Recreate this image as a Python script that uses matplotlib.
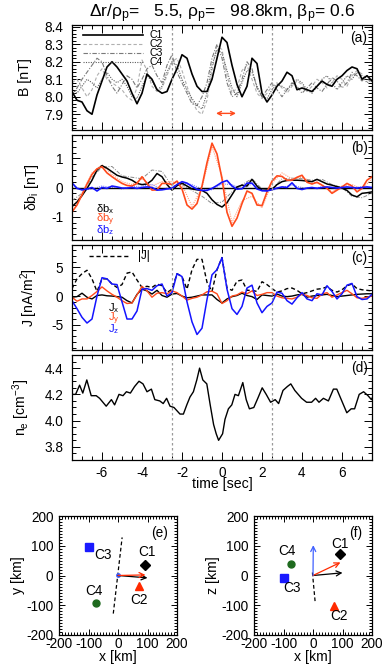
import numpy as np
import matplotlib
matplotlib.use('Agg')
import matplotlib.pyplot as plt
from matplotlib.ticker import MultipleLocator, FormatStrFormatter

plt.rcParams['font.family'] = ['Liberation Sans', 'DejaVu Sans']
plt.rcParams['mathtext.fontset'] = 'custom'
plt.rcParams['mathtext.rm'] = 'Liberation Sans'
plt.rcParams['mathtext.it'] = 'Liberation Sans'
plt.rcParams['mathtext.bf'] = 'Liberation Sans:bold'
plt.rcParams['axes.unicode_minus'] = False

# ---------------- data ----------------
t = np.arange(-7.5, 7.5001, 0.25)
t_alt = np.arange(-7.5, 7.5001, 0.5)

B_C1 = [8.03, 7.98, 7.97, 7.92, 7.90, 8.01, 8.09, 8.17, 8.20, 8.17,
        8.13, 8.09, 8.02, 7.96, 8.02, 8.13, 8.10, 8.04, 8.02, 8.03,
        8.10, 8.16, 8.24, 8.22, 8.13, 8.06, 8.03, 8.03, 8.10, 8.22,
        8.34, 8.31, 8.18, 8.07, 8.00, 8.06, 8.22, 8.19, 8.02, 7.97,
        8.01, 8.06, 8.09, 8.14, 8.12, 8.04, 8.05, 8.04, 8.03, 8.06,
        8.09, 8.07, 8.06, 8.10, 8.12, 8.15, 8.17, 8.16, 8.10, 8.12, 8.09]
B_C2 = [8.08, 8.10, 8.05, 8.00, 8.04, 8.12, 8.16, 8.10, 8.08, 8.06,
        8.04, 8.00, 7.98, 8.05, 8.21, 8.15, 8.06, 8.03, 8.05, 8.12,
        8.20, 8.22, 8.15, 8.06, 7.98, 7.92, 7.90, 7.98, 8.15, 8.29,
        8.27, 8.12, 8.02, 8.05, 8.15, 8.18, 8.10, 8.02, 7.99, 8.02,
        8.06, 8.08, 8.05, 8.02, 8.06, 8.09, 8.07, 8.03, 8.06, 8.10,
        8.08, 8.05, 8.08, 8.12, 8.10, 8.06, 8.12, 8.15, 8.13, 8.10, 8.08]
B_C3 = [8.00, 8.05, 8.10, 8.14, 8.18, 8.22, 8.20, 8.12, 8.06, 8.02,
        8.07, 8.12, 8.10, 8.05, 8.10, 8.16, 8.18, 8.12, 8.08, 8.18,
        8.24, 8.14, 8.08, 8.02, 7.96, 7.95, 8.00, 8.08, 8.22, 8.30,
        8.22, 8.08, 8.00, 8.02, 8.10, 8.20, 8.16, 8.05, 8.00, 8.04,
        8.08, 8.04, 8.00, 8.04, 8.08, 8.06, 8.02, 8.05, 8.08, 8.05,
        8.03, 8.07, 8.11, 8.09, 8.05, 8.08, 8.14, 8.12, 8.09, 8.12, 8.10]
B_C4 = [8.04, 8.02, 8.06, 8.10, 8.08, 8.05, 8.10, 8.14, 8.10, 8.08,
        8.10, 8.06, 8.00, 7.99, 8.06, 8.12, 8.09, 8.04, 8.06, 8.14,
        8.20, 8.18, 8.10, 8.04, 7.99, 7.95, 7.93, 8.02, 8.18, 8.27,
        8.25, 8.15, 8.05, 8.00, 8.08, 8.15, 8.14, 8.06, 8.00, 7.99,
        8.04, 8.07, 8.06, 8.04, 8.07, 8.10, 8.08, 8.04, 8.02, 8.06,
        8.10, 8.12, 8.08, 8.04, 8.08, 8.12, 8.10, 8.14, 8.12, 8.08, 8.10]

dbx = [-0.65, -0.50, -0.28, -0.03, 0.25, 0.60, 0.75, 0.66, 0.54, 0.42,
       0.36, 0.32, 0.25, 0.14, 0.10, 0.12, 0.25, 0.48, 0.37, 0.10,
       -0.09, 0.06, 0.15, 0.05, -0.05, -0.08, -0.10, -0.20, -0.42, -0.58,
       -0.67, -0.52, -0.25, 0.02, 0.08, 0.05, 0.28, 0.05, -0.10, -0.09,
       -0.07, 0.10, 0.20, 0.24, 0.25, 0.25, 0.24, 0.22, 0.20, 0.28,
       0.20, 0.12, 0.08, 0.03, -0.02, -0.10, -0.26, -0.32, -0.20, -0.18, -0.15]
dby = [-0.84, -0.60, -0.25, 0.12, 0.45, 0.64, 0.71, 0.50, 0.37, 0.25,
       0.14, 0.07, 0.05, 0.14, 0.37, 0.14, -0.09, -0.08, 0.14, 0.14,
       0.10, 0.22, -0.05, -0.60, -0.74, -0.55, 0.05, 0.85, 1.52, 1.15,
       0.30, -0.85, -1.33, -1.05, -0.55, -0.12, -0.20, -0.60, -0.62, -0.15,
       0.22, 0.40, 0.38, 0.25, 0.25, 0.35, 0.42, 0.18, 0.12, 0.18,
       0.08, -0.03, -0.20, -0.09, 0.02, 0.14, 0.05, -0.15, -0.03, 0.25, 0.37]
dbz = [0.16, -0.03, -0.08, -0.05, 0.00, -0.12, 0.00, -0.03, 0.05, 0.02,
       -0.02, -0.02, 0.00, -0.03, 0.00, 0.02, 0.00, -0.09, -0.08, -0.05,
       -0.03, 0.10, 0.20, 0.15, 0.04, -0.06, -0.10, -0.10, -0.03, 0.07,
       0.18, 0.24, 0.05, -0.06, -0.04, 0.15, 0.15, -0.05, -0.11, -0.12,
       -0.07, -0.02, 0.02, 0.00, 0.16, -0.03, -0.07, -0.02, 0.00, -0.03,
       0.00, 0.02, 0.00, -0.02, 0.00, 0.02, 0.00, -0.02, 0.00, 0.02, 0.00]

dbx_alt = [-0.45, -0.20, 0.35, 0.70, 0.72, 0.40, 0.35, 0.30, 0.60, 0.55,
           0.05, 0.10, -0.10, -0.30, -0.55, -0.50, -0.15, 0.10, 0.30, -0.05,
           -0.05, 0.30, 0.32, 0.30, 0.25, 0.28, 0.10, 0.00, -0.30, -0.35, -0.20]
dby_alt = [-0.70, -0.20, 0.50, 0.78, 0.45, 0.20, 0.10, 0.30, 0.05, 0.20,
           0.20, 0.10, -0.65, 0.00, 1.40, 0.40, -1.20, -0.45, -0.30, -0.70,
           0.15, 0.50, 0.30, 0.35, 0.20, 0.10, -0.15, 0.05, 0.10, -0.05, 0.30]
dbz_alt = [0.10, -0.10, -0.05, 0.05, 0.00, -0.05, 0.03, 0.05, 0.10, -0.05,
           0.00, 0.15, 0.10, -0.05, -0.08, 0.12, 0.10, -0.05, 0.12, -0.08,
           -0.10, 0.00, 0.08, 0.00, -0.03, 0.02, 0.00, -0.03, 0.00, 0.02, 0.00]

Jx = [-0.2, -0.1, 0.5, -0.2, -0.5, 0.1, 0.2, 0.05, 0.0, -0.1,
      -0.2, -0.8, -1.2, 0.3, 1.2, 0.9, 0.35, 1.0, 0.1, -0.2,
      0.35, 0.45, 0.0, -0.3, -0.2, 0.0, 0.2, 0.2, 0.2, -0.6,
      -1.2, -0.5, -0.1, 0.1, 0.5, 0.1, -0.1, -0.6, 0.2, 0.1,
      0.0, 0.35, 0.0, -0.1, 0.0, 0.2, 0.3, -0.2, 0.0, 0.1,
      0.2, 0.3, 0.1, -0.1, 0.0, 0.1, 0.2, 0.3, 0.35, 0.4, 0.4]
Jy = [-0.2, -0.9, -0.5, -0.5, 0.1, 0.8, 1.6, 0.9, 0.3, -0.2,
      -0.8, -1.3, -1.2, 0.2, 1.7, 0.9, -0.2, 0.5, 0.6, 0.4,
      0.9, 0.6, 0.0, -0.7, -0.4, -0.2, 0.2, 0.75, 0.85, 0.4,
      -1.3, -0.8, 0.0, 0.2, 0.7, 0.4, 0.9, 0.1, 0.3, 0.6,
      0.6, 0.0, -0.3, -0.4, -0.5, -0.2, 0.35, 0.1, -0.3, -0.4,
      0.35, 0.6, -0.2, 0.2, 0.6, 1.0, 0.4, -0.3, -0.4, -0.2, 0.0]
Jz = [-0.8, -2.2, -3.7, -4.7, -4.0, 0.0, 3.2, 3.0, 2.1, 2.0,
      -1.0, -4.0, -4.0, -2.6, 1.2, 1.3, 1.0, 1.8, 2.1, 0.0,
      0.6, 3.9, 3.4, -1.0, -4.5, -6.7, -5.6, -0.6, 3.7, 4.6,
      6.7, 1.2, -2.2, -3.2, -1.8, 1.4, 1.9, -1.2, -2.9, -1.8,
      -1.2, 0.7, 0.5, -0.8, -1.4, -0.3, 0.6, -0.5, -0.8, 0.4,
      0.2, 1.8, 0.8, -0.5, 0.4, 1.9, 2.2, -0.1, -0.6, -0.5, 0.3]
Jabs = [1.3, 3.0, 3.9, 4.5, 3.0, 0.8, 3.0, 3.0, 2.1, 1.5,
        2.0, 4.0, 4.2, 2.8, 1.5, 1.7, 1.5, 2.1, 1.8, 0.6,
        1.2, 3.9, 3.4, 1.2, 4.6, 6.4, 6.4, 2.4, 0.8, 4.6,
        6.7, 1.4, 1.0, 2.6, 2.8, 1.0, 1.0, 0.8, 2.5, 2.0,
        1.3, 0.7, 0.9, 1.3, 1.4, 1.0, 0.4, 0.6, 0.9, 1.2,
        1.3, 1.6, 1.0, 0.7, 1.1, 1.8, 2.1, 1.3, 1.1, 1.0, 0.9]

ne_t = [-7.5, -7.32, -7.12, -6.96, -6.76, -6.54, -6.29, -6.12, -5.79, -5.53,
        -5.37, -5.15, -4.95, -4.78, -4.58, -4.37, -4.15, -3.95, -3.75, -3.53,
        -3.36, -3.11, -2.94, -2.77, -2.6, -2.4, -2.1, -1.93, -1.76, -1.6,
        -1.43, -1.26, -1.12, -0.96, -0.76, -0.59, -0.42, -0.29, -0.17, 0.03,
        0.15, 0.32, 0.49, 0.65, 0.82, 1.04, 1.21, 1.37, 1.59, 1.79,
        2.01, 2.21, 2.43, 2.66, 2.83, 3.05, 3.27, 3.44, 3.64, 3.98,
        4.23, 4.48, 4.68, 4.85, 5.07, 5.32, 5.57, 5.74, 5.99, 6.24,
        6.46, 6.63, 6.86, 7.08, 7.3, 7.47, 7.6]
ne = [4.2, 4.2, 4.27, 4.21, 4.31, 4.19, 4.19, 4.17, 4.11, 4.16,
      4.12, 4.2, 4.19, 4.22, 4.21, 4.26, 4.3, 4.28, 4.22, 4.24,
      4.16, 4.15, 4.13, 4.17, 4.11, 4.1, 4.05, 4.05, 4.12, 4.18,
      4.22, 4.31, 4.4, 4.31, 4.28, 4.12, 3.97, 3.9, 3.85, 3.9,
      4.01, 4.09, 4.12, 4.2, 4.19, 4.29, 4.16, 4.09, 4.1, 4.17,
      4.25, 4.2, 4.14, 4.16, 4.13, 4.23, 4.26, 4.28, 4.23, 4.17,
      4.14, 4.14, 4.17, 4.14, 4.17, 4.15, 4.24, 4.24, 4.15, 4.06,
      4.09, 4.09, 4.2, 4.22, 4.19, 4.16, 4.2]

boundaries = [-2.5, 2.5]
scale_arrow = [-0.3, 0.7]
scale_arrow_level = 7.905

sc_names = ['C1', 'C2', 'C3', 'C4']
sc_x = [90, 70, -97, -73]
sc_y = [35, -35, 96, -94]
sc_z = [72, -101, -7, 37]

vec_x = [100, 93, 1]
vec_y = [-8, 2, 2]
vec_z = [9, 44, 102]

line_e_x = [-16, 14]
line_e_y = [-128, 128]
line_f_x = [-2, 7]
line_f_z = [10, -86]

title = 'Δr/ρ$_{\\rm p}$=   5.5, ρ$_{\\rm p}$=   98.8km, β$_{\\rm p}$= 0.6'

# ---------------- styles ----------------
ORANGE = '#ff4a1c'
BLUE = '#1414ff'
GRAYV = '#9a9a9a'
FS = 9.8
LFS = 10.2
SFS = 8.0

W, H = 386.0, 668.0
fig = plt.figure(figsize=(3.86, 6.68), dpi=100)


def add_ax(l, tp, r, b):
    return fig.add_axes([l / W, 1 - b / H, (r - l) / W, (b - tp) / H])


def style(ax, xmaj, xmin, ymaj, ymin, yfmt):
    ax.xaxis.set_major_locator(MultipleLocator(xmaj))
    ax.xaxis.set_minor_locator(MultipleLocator(xmin))
    ax.yaxis.set_major_locator(MultipleLocator(ymaj))
    ax.yaxis.set_minor_locator(MultipleLocator(ymin))
    ax.yaxis.set_major_formatter(FormatStrFormatter(yfmt))
    ax.tick_params(which='both', direction='in', top=True, right=True,
                   labelsize=FS, width=0.7, pad=6.3)
    ax.tick_params(which='major', length=5.5)
    ax.tick_params(which='minor', length=2.8)
    for s in ax.spines.values():
        s.set_linewidth(0.9)


tops = [25, 135, 245, 355]
axs = [add_ax(72, tp, 372, tp + 105) for tp in tops]
ax_a, ax_b, ax_c, ax_d = axs

# (a)
ax = ax_a
ax.plot(t, B_C2, color='#b0b0b0', lw=0.8, ls=(0, (3, 2)))
ax.plot(t, B_C3, color='#7a7a7a', lw=0.8, ls=(0, (4, 1.5, 1, 1.5)))
ax.plot(t, B_C4, color='#606060', lw=0.8, ls=(0, (1, 1.2)))
ax.plot(t, B_C1, color='black', lw=1.2)
ax.set_ylim(7.81, 8.41)
style(ax, 2, 0.5, 0.1, 0.02, '%.1f')
ax.annotate('', xy=(scale_arrow[1], scale_arrow_level), xytext=(scale_arrow[0], scale_arrow_level),
            arrowprops=dict(arrowstyle='<->', color=ORANGE, lw=1.0, mutation_scale=7, shrinkA=0, shrinkB=0))
ax.set_ylabel('B [nT]', fontsize=LFS, labelpad=9)
leg_styles = [('black', 1.2, '-'), ('#b0b0b0', 0.8, (0, (3, 2))),
              ('#7a7a7a', 0.8, (0, (4, 1.5, 1, 1.5))), ('#606060', 0.8, (0, (1, 1.2)))]
leg_y = [0.905, 0.82, 0.735, 0.65]
for (c, lw, ls), yy, name in zip(leg_styles, leg_y, sc_names):
    ax.plot([0.035, 0.235], [yy, yy], color=c, lw=lw, ls=ls, transform=ax.transAxes)
    ax.text(0.26, yy, name, transform=ax.transAxes, fontsize=7.6, va='center', ha='left')
ax.text(0.985, 0.875, '(a)', transform=ax.transAxes, fontsize=FS, ha='right', va='center')

# (b)
ax = ax_b
ax.plot(t_alt, dbx_alt, color='#8a8a8a', lw=0.7, ls=(0, (4, 1.5, 1, 1.5)))
ax.plot(t_alt, dby_alt, color='#ffa080', lw=0.8, ls=(0, (1, 1)))
ax.plot(t_alt, dbz_alt, color='#8080ff', lw=0.8, ls=(0, (1, 1)))
ax.axhline(0, color='black', lw=1.0)
ax.plot(t, dbx, color='black', lw=1.1)
ax.plot(t, dby, color=ORANGE, lw=1.2)
ax.plot(t, dbz, color=BLUE, lw=1.2)
ax.set_ylim(-1.8, 1.8)
style(ax, 2, 0.5, 1, 0.2, '%d')
ax.set_ylabel('δb$_{\\rm i}$ [nT]', fontsize=LFS, labelpad=7)
for yy, lab, c in zip([0.29, 0.19, 0.09], ['δb$_{\\rm x}$', 'δb$_{\\rm y}$', 'δb$_{\\rm z}$'],
                      ['black', ORANGE, BLUE]):
    ax.text(0.08, yy, lab, transform=ax.transAxes, fontsize=SFS, color=c, va='center')
ax.text(0.985, 0.875, '(b)', transform=ax.transAxes, fontsize=FS, ha='right', va='center')

# (c)
ax = ax_c
ax.plot(t, Jabs, color='black', lw=1.0, ls=(0, (3, 2)))
ax.plot(t, Jx, color='black', lw=1.0)
ax.plot(t, Jy, color=ORANGE, lw=1.0)
ax.plot(t, Jz, color=BLUE, lw=1.1)
ax.set_ylim(-9.4, 8.9)
style(ax, 2, 0.5, 5, 1, '%d')
ax.set_ylabel('J [nA/m$^{2}$]', fontsize=LFS, labelpad=8)
ax.plot([0.057, 0.187], [0.9, 0.9], color='black', lw=1.0, ls=(0, (3, 2)), transform=ax.transAxes)
ax.text(0.22, 0.9, '|J|', transform=ax.transAxes, fontsize=8.4, va='center')
for yy, lab, c in zip([0.395, 0.295, 0.195], ['J$_{\\rm x}$', 'J$_{\\rm y}$', 'J$_{\\rm z}$'],
                      ['black', ORANGE, BLUE]):
    ax.text(0.12, yy, lab, transform=ax.transAxes, fontsize=SFS, color=c, va='center')
ax.text(0.985, 0.875, '(c)', transform=ax.transAxes, fontsize=FS, ha='right', va='center')

# (d)
ax = ax_d
ax.plot(ne_t, ne, color='black', lw=1.0)
ax.set_ylim(3.7, 4.5)
style(ax, 2, 0.5, 0.2, 0.05, '%.1f')
ax.set_ylabel('n$_{\\rm e}$ [cm$^{-3}$]', fontsize=LFS, labelpad=9)
ax.set_xlabel('time [sec]', fontsize=LFS, labelpad=-2)
ax.xaxis.set_major_formatter(FormatStrFormatter('%d'))
ax.tick_params(axis='x', pad=4.0)
ax.text(0.985, 0.875, '(d)', transform=ax.transAxes, fontsize=FS, ha='right', va='center')

for ax in axs:
    ax.set_xlim(-7.5, 7.5)
    for b in boundaries:
        ax.axvline(b, color=GRAYV, lw=0.9, ls=(0, (2, 2)))
for ax in axs[:3]:
    ax.tick_params(labelbottom=False)

fig.text(222 / W, 1 - 14 / H, title, fontsize=12.6, ha='center', va='center')

# (e) and (f)
ax_e = add_ax(59, 516, 177, 635)
ax_f = add_ax(254, 516, 372, 635)
markers = [('D', 'black', 4.8), ('^', '#ff2a00', 5.8), ('s', '#1a1aff', 5.5), ('o', '#1e6a1e', 5.0)]
vec_colors = ['black', '#ff2a00', '#4060ff']

off_e = [(2, 9.5), (0, -10.5), (9.5, -5.5), (-2, 9)]
off_f = [(0, 7.5), (4, -7.7), (5.5, -7.6), (-3, 9.6)]

for ax, vert, offs, lab, vlabel in [(ax_e, sc_y, off_e, '(e)', 'y [km]'),
                                     (ax_f, sc_z, off_f, '(f)', 'z [km]')]:
    ax.set_xlim(-200, 200)
    ax.set_ylim(-200, 200)
    style(ax, 100, 10, 100, 10, '%d')
    ax.xaxis.set_major_formatter(FormatStrFormatter('%d'))
    ax.tick_params(axis='x', labelsize=FS, pad=1.5)
    ax.tick_params(axis='y', labelsize=FS, pad=4)
    ax.tick_params(which='major', length=4)
    ax.tick_params(which='minor', length=2)
    for (m, c, ms), xx, yy, name, off in zip(markers, sc_x, vert, sc_names, offs):
        ax.plot([xx], [yy], marker=m, color=c, ms=ms, ls='none')
        ax.annotate(name, (xx, yy), xytext=off, textcoords='offset points',
                    fontsize=FS, ha='center', va='center')
    ax.set_xlabel('x [km]', fontsize=LFS, labelpad=-1)
    ax.set_ylabel(vlabel, fontsize=LFS, labelpad=1)
    ax.text(0.92, 0.86, lab, transform=ax.transAxes, fontsize=FS, ha='right', va='center')

ax_e.plot(line_e_x, line_e_y, color='black', lw=0.9, ls=(0, (3, 2)))
ax_f.plot(line_f_x, line_f_z, color='black', lw=0.9, ls=(0, (3, 2)))
for vx, vy, vz, c in zip(vec_x, vec_y, vec_z, vec_colors):
    if np.hypot(vx, vy) > 20:
        ax_e.annotate('', xy=(vx, vy), xytext=(0, 0),
                      arrowprops=dict(arrowstyle='->', color=c, lw=0.9, mutation_scale=9, shrinkA=0, shrinkB=0))
    ax_f.annotate('', xy=(vx, vz), xytext=(0, 0),
                  arrowprops=dict(arrowstyle='->', color=c, lw=0.9, mutation_scale=9, shrinkA=0, shrinkB=0))
ax_e.plot([vec_x[2]], [vec_y[2]], marker='o', color='#4060ff', ms=2.5, ls='none')

fig.savefig('out.png', dpi=100)
